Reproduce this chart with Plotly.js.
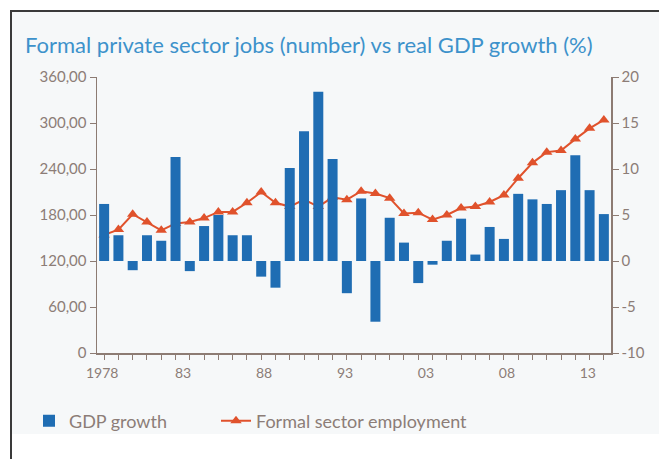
<!DOCTYPE html>
<html>
<head>
<meta charset="utf-8">
<script src="https://cdn.plot.ly/plotly-3.0.1.min.js"></script>
<style>
  html, body { margin: 0; padding: 0; background: #ffffff; }
  #wrap { position: relative; width: 659px; height: 459px; overflow: hidden; background: #ffffff; }
  #frame { position: absolute; left: 10px; top: 10px; width: 660px; height: 460px;
           border-left: 2px solid #3a3a3a; border-top: 2px solid #3a3a3a; box-sizing: border-box; }
  #tint { position: absolute; left: 12px; top: 12px; width: 647px; height: 422px; background: #f6f8f9; }
  #chart { position: absolute; left: 0; top: 0; width: 659px; height: 459px; }
</style>
</head>
<body>
<div id="wrap">
  <div id="tint"></div>
  <div id="frame"></div>
  <div id="chart"></div>
</div>
<script>
// Categories (years)
const years = [1978, 1979, 1980, 1981, 1982, 1983, 1984, 1985, 1986, 1987, 1988, 1989,
               1990, 1991, 1992, 1993, 1994, 1995, 1996, 1997, 1998, 1999, 2000, 2001,
               2002, 2003, 2004, 2005, 2006, 2007, 2008, 2009, 2010, 2011, 2012, 2013];

// Real GDP growth (%) - right axis
const gdpGrowth = [6.2, 2.8, -1.0, 2.8, 2.2, 11.3, -1.1, 3.8, 5.0, 2.8, 2.8, -1.7,
                   -2.9, 10.1, 14.1, 18.4, 11.1, -3.5, 6.8, -6.6, 4.7, 2.0, -2.4, -0.4,
                   2.2, 4.6, 0.7, 3.7, 2.4, 7.3, 6.7, 6.2, 7.7, 11.5, 7.7, 5.1];

// Formal sector employment (number) - left axis
const employment = [154, 161, 181, 171, 160, 169, 171, 176, 184, 184, 196, 210,
                    196, 191, 200, 191, 203, 200, 211, 208, 202, 182, 183, 174,
                    180, 189, 191, 197, 206, 228, 248, 262, 264, 279, 293, 304];

// Axis tick labels
const xTickText = ['1978', '83', '88', '93', '03', '08', '13'];
const leftTickVals = [0, 60, 120, 180, 240, 300, 360];
const leftTickText = ['0', '60,00', '120,00', '180,00', '240,00', '300,00', '360,00'];
const rightTickVals = [-10, -5, 0, 5, 10, 15, 20];

const axisColor = '#8c7b73';
const labelColor = '#8c7d77';
const fontFam = 'Lato, "Open Sans", sans-serif';

// the reference spreads its year labels evenly along the axis
const xTickPos = xTickText.map((_, i) => 1977.86 + i * 5.67);

const traces = [
  {
    type: 'bar',
    name: 'GDP growth',
    x: years,
    y: gdpGrowth,
    yaxis: 'y2',
    legend: 'legend',
    marker: { color: '#1f6db3' },
    hoverinfo: 'x+y'
  },
  {
    type: 'scatter',
    mode: 'lines+markers',
    name: 'Formal sector employment',
    x: years,
    y: employment,
    yaxis: 'y',
    legend: 'legend2',
    line: { color: '#e0522c', width: 2 },
    marker: { symbol: 'triangle-up', size: 10, color: '#e0522c' }
  }
];

const legendStyle = {
  orientation: 'h',
  xanchor: 'left',
  y: (353 - 421) / 276,
  yanchor: 'middle',
  font: { family: fontFam, size: 18, color: labelColor },
  bgcolor: 'rgba(0,0,0,0)',
  itemwidth: 30
};

const layout = {
  width: 659,
  height: 459,
  margin: { l: 97, r: 48, t: 77, b: 106 },
  paper_bgcolor: 'rgba(0,0,0,0)',
  plot_bgcolor: 'rgba(0,0,0,0)',
  bargap: 0.3,
  font: { family: fontFam, color: labelColor, size: 14 },
  title: {
    text: 'Formal private sector jobs (number) vs real GDP growth (%)',
    font: { family: fontFam, size: 22, color: '#3d92cb' },
    xref: 'container', yref: 'container',
    x: 25 / 659, xanchor: 'left',
    y: 1 - 45 / 459, yanchor: 'middle'
  },
  xaxis: {
    range: [1977.5, 2013.5],
    showgrid: false,
    zeroline: false,
    showline: true,
    linecolor: axisColor,
    linewidth: 1.5,
    tickmode: 'array',
    tickvals: xTickPos,
    ticktext: xTickText,
    ticks: 'outside',
    ticklen: 7,
    tickcolor: 'rgba(0,0,0,0)',
    tickfont: { family: fontFam, size: 14, color: labelColor },
    minor: {
      tickmode: 'linear',
      tick0: 1978,
      dtick: 1,
      ticks: 'outside',
      ticklen: 5,
      tickwidth: 1,
      tickcolor: axisColor,
      showgrid: false
    },
    fixedrange: true
  },
  yaxis: {
    range: [0, 360],
    tickmode: 'array',
    tickvals: leftTickVals,
    ticktext: leftTickText,
    showgrid: false,
    zeroline: false,
    showline: true,
    linecolor: axisColor,
    linewidth: 1.5,
    ticks: 'outside',
    ticklen: 6,
    tickcolor: axisColor,
    tickfont: { family: fontFam, size: 15, color: labelColor },
    fixedrange: true
  },
  yaxis2: {
    range: [-10, 20],
    overlaying: 'y',
    side: 'right',
    tickmode: 'array',
    tickvals: rightTickVals,
    ticktext: rightTickVals.map(String),
    showgrid: false,
    zeroline: false,
    showline: true,
    linecolor: axisColor,
    linewidth: 1.5,
    ticks: 'outside',
    ticklen: 6,
    tickcolor: axisColor,
    tickfont: { family: fontFam, size: 15, color: labelColor },
    fixedrange: true
  },
  showlegend: true,
  legend: Object.assign({}, legendStyle, { x: (29 - 97) / 514 }),
  legend2: Object.assign({}, legendStyle, { x: (216 - 97) / 514 })
};

Plotly.newPlot('chart', traces, layout, { displayModeBar: false, staticPlot: true });
</script>
</body>
</html>
